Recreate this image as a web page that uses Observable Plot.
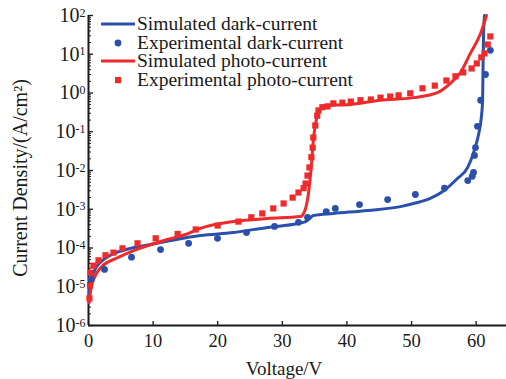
<!DOCTYPE html>
<html>
<head>
<meta charset="utf-8">
<script src="https://cdn.jsdelivr.net/npm/d3@7"></script>
<script src="https://cdn.jsdelivr.net/npm/@observablehq/plot@0.6"></script>
<style>
  html, body { margin: 0; padding: 0; background: #fff; }
  svg { display: block; }
</style>
</head>
<body>
<div id="chart"></div>
<script>
// ---------------- data ----------------
const seriesNames = ["Simulated dark-current", "Experimental dark-current", "Simulated photo-current", "Experimental photo-current"];

// Simulated dark-current (line)
const darkSimV = [0.08, 0.15, 0.31, 0.62, 1.08, 1.86, 3.4, 6.5, 9.6, 12.7, 17.3, 22.4, 27.7, 32.4, 33.6, 34.1, 34.8, 37.9, 43.2, 48.3, 50.3, 52.9, 55.0, 57.1, 58.7, 59.6, 60.4, 60.8, 61.0, 61.07, 61.15, 61.3];
const darkSimJ = [4.5e-6, 7.9e-6, 1.29e-5, 1.95e-5, 2.95e-5, 4.3e-5, 6.5e-5, 9.8e-5, 1.23e-4, 1.55e-4, 2.1e-4, 2.5e-4, 3.4e-4, 4.3e-4, 4.8e-4, 5.5e-4, 6.9e-4, 7.8e-4, 9.3e-4, 1.17e-3, 1.41e-3, 1.9e-3, 3.0e-3, 6.2e-3, 1.2e-2, 2.9e-2, 8.9e-2, 0.23, 0.65, 4.6, 34.7, 100];

// Experimental dark-current (dots)
const darkExpV = [0.42, 2.48, 6.66, 11.15, 15.5, 19.97, 24.46, 28.8, 32.5, 33.9, 36.8, 38.2, 41.95, 46.3, 50.6, 55.1, 58.7, 59.4, 59.6, 59.75, 59.9, 60.2, 60.7, 61.45, 62.2];
const darkExpJ = [1.55e-5, 2.8e-5, 5.8e-5, 9.1e-5, 1.32e-4, 1.78e-4, 2.5e-4, 3.6e-4, 4.6e-4, 6.2e-4, 8.7e-4, 1.05e-3, 1.32e-3, 1.78e-3, 2.4e-3, 3.5e-3, 5.5e-3, 7.1e-3, 8.9e-3, 2.45e-2, 3.9e-2, 0.138, 0.65, 3.0, 12.6];

// Simulated photo-current (line)
const photoSimV = [0.08, 0.42, 0.93, 1.97, 4.49, 7.1, 9.7, 12.2, 14.9, 17.3, 22.4, 27.7, 32.8, 33.6, 34.1, 34.5, 34.8, 35.3, 35.9, 36.8, 40.1, 45.2, 50.3, 54.0, 56.0, 57.6, 59.1, 60.7, 61.6];
const photoSimJ = [3.9e-6, 9.5e-6, 1.74e-5, 3.2e-5, 5.6e-5, 8.7e-5, 1.23e-4, 1.66e-4, 2.2e-4, 3.2e-4, 4.8e-4, 5.8e-4, 6.5e-4, 1.05e-3, 3.0e-3, 1.35e-2, 5.9e-2, 0.22, 0.37, 0.48, 0.50, 0.65, 0.76, 1.02, 1.78, 3.4, 10.5, 34.7, 100];

// Experimental photo-current (squares)
const photoExpV = [0.15, 0.23, 0.31, 0.77, 1.55, 2.63, 3.87, 5.26, 7.59, 10.4, 13.8, 16.6, 20.0, 23.2, 25.2, 26.9, 28.6, 30.2, 31.6, 32.5, 33.3, 33.6, 33.9, 34.2, 34.5, 34.7, 34.8, 35.1, 35.4, 35.6, 36.2, 37.0, 37.9, 39.3, 40.6, 42.1, 43.7, 45.2, 46.7, 48.0, 49.8, 51.7, 53.6, 55.4, 56.8, 58.0, 59.3, 60.1, 60.8, 61.3, 61.8, 62.2];
const photoExpJ = [5.0e-6, 1.07e-5, 2.3e-5, 3.5e-5, 4.8e-5, 6.5e-5, 7.6e-5, 9.8e-5, 1.32e-4, 1.78e-4, 2.3e-4, 3.0e-4, 3.8e-4, 4.8e-4, 6.2e-4, 7.8e-4, 1.05e-3, 1.41e-3, 2.0e-3, 2.7e-3, 3.5e-3, 4.6e-3, 7.4e-3, 1.2e-2, 2.2e-2, 3.9e-2, 7.1e-2, 0.145, 0.26, 0.355, 0.43, 0.45, 0.54, 0.56, 0.60, 0.65, 0.68, 0.76, 0.81, 0.87, 0.98, 1.32, 1.55, 2.1, 2.7, 3.4, 4.3, 5.8, 8.3, 10.5, 17.8, 28.8];

// ticks
const xTicks = [0, 10, 20, 30, 40, 50, 60];
const yTicks = [1e-6, 1e-5, 1e-4, 1e-3, 1e-2, 1e-1, 1e0, 1e1, 1e2];
const yMinorTicks = [];
yTicks.slice(0, -1).forEach(t => [2,3,4,5,6,7,8,9].forEach(m => yMinorTicks.push(t * m)));

const xLabel = "Voltage/V";
const yLabel = "Current Density/(A/cm²)";

// ---------------- build tables ----------------
const zip = (V, J) => V.map((v, i) => ({v, j: J[i]}));
const darkSim = zip(darkSimV, darkSimJ);
const darkExp = zip(darkExpV, darkExpJ);
const photoSim = zip(photoSimV, photoSimJ);
const photoExp = zip(photoExpV, photoExpJ);

const BLUE = "#2b50ac";
const RED = "#ee2a2a";
const FONT = "'Liberation Serif', 'Times New Roman', serif";

const chart = Plot.plot({
  width: 506,
  height: 379,
  marginLeft: 88,
  marginRight: 0,
  marginTop: 15,
  marginBottom: 54,
  style: {fontFamily: FONT, background: "#fff", color: "#1a1a1a", overflow: "visible"},
  x: {domain: [0, 64.7]},
  y: {type: "log", domain: [1e-6, 1e2]},
  marks: [
    Plot.axisY({ticks: yMinorTicks, tickSize: -3, fill: "none", label: null, strokeWidth: 1}),
    Plot.axisY({ticks: yTicks, tickSize: -5, tickPadding: 8, fontSize: 20, label: null, strokeWidth: 1.3,
      tickFormat: d => "10^" + Math.round(Math.log10(d))}),
    Plot.axisX({ticks: xTicks, tickSize: -4, tickPadding: 12, fontSize: 18.5, label: null, strokeWidth: 1.3,
      tickFormat: d => String(d)}),
    Plot.ruleX([0], {stroke: "#1a1a1a", strokeWidth: 2}),
    Plot.ruleY([1e-6], {stroke: "#1a1a1a", strokeWidth: 2}),
    Plot.line(darkSim, {x: "v", y: "j", stroke: BLUE, strokeWidth: 3, curve: "monotone-x"}),
    Plot.line(photoSim, {x: "v", y: "j", stroke: RED, strokeWidth: 3, curve: "monotone-x"}),
    Plot.dot(darkExp, {x: "v", y: "j", r: 3.4, fill: BLUE, stroke: "none"}),
    Plot.dot(photoExp, {x: "v", y: "j", r: 3.5, symbol: "square", fill: RED, stroke: "none"})
  ]
});

document.getElementById("chart").appendChild(chart);
const svg = d3.select(chart);

// superscript tick labels
svg.selectAll('g[aria-label="y-axis tick label"] text').each(function() {
  const t = d3.select(this);
  const s = t.text();
  const exp = s.split("^")[1];
  t.text("10");
  t.append("tspan").attr("dy", "-0.45em").attr("font-size", "12px").text(exp);
});

// axis titles
svg.append("text")
  .attr("transform", "translate(27,178) rotate(-90)")
  .attr("text-anchor", "middle")
  .attr("font-family", FONT).attr("font-size", 20).attr("fill", "#1a1a1a")
  .text(yLabel);
svg.append("text")
  .attr("x", 284).attr("y", 375)
  .attr("text-anchor", "middle")
  .attr("font-family", FONT).attr("font-size", 19).attr("fill", "#1a1a1a")
  .text(xLabel);

// legend
const leg = svg.append("g").attr("font-family", FONT).attr("font-size", 19.5).attr("fill", "#1a1a1a").attr("text-anchor", "start");
const rows = [24, 43, 61, 80];
rows.forEach((y, i) => {
  if (i === 0 || i === 2) {
    leg.append("line").attr("x1", 101).attr("x2", 135).attr("y1", y).attr("y2", y)
      .attr("stroke", i === 0 ? BLUE : RED).attr("stroke-width", 3);
  } else if (i === 1) {
    leg.append("circle").attr("cx", 118).attr("cy", y).attr("r", 3.4).attr("fill", BLUE);
  } else {
    leg.append("rect").attr("x", 115).attr("y", y - 3).attr("width", 6.2).attr("height", 6.2).attr("fill", RED);
  }
  leg.append("text").attr("x", 137).attr("y", y + 6).attr("text-anchor", "start").text(seriesNames[i]);
});
</script>
</body>
</html>
